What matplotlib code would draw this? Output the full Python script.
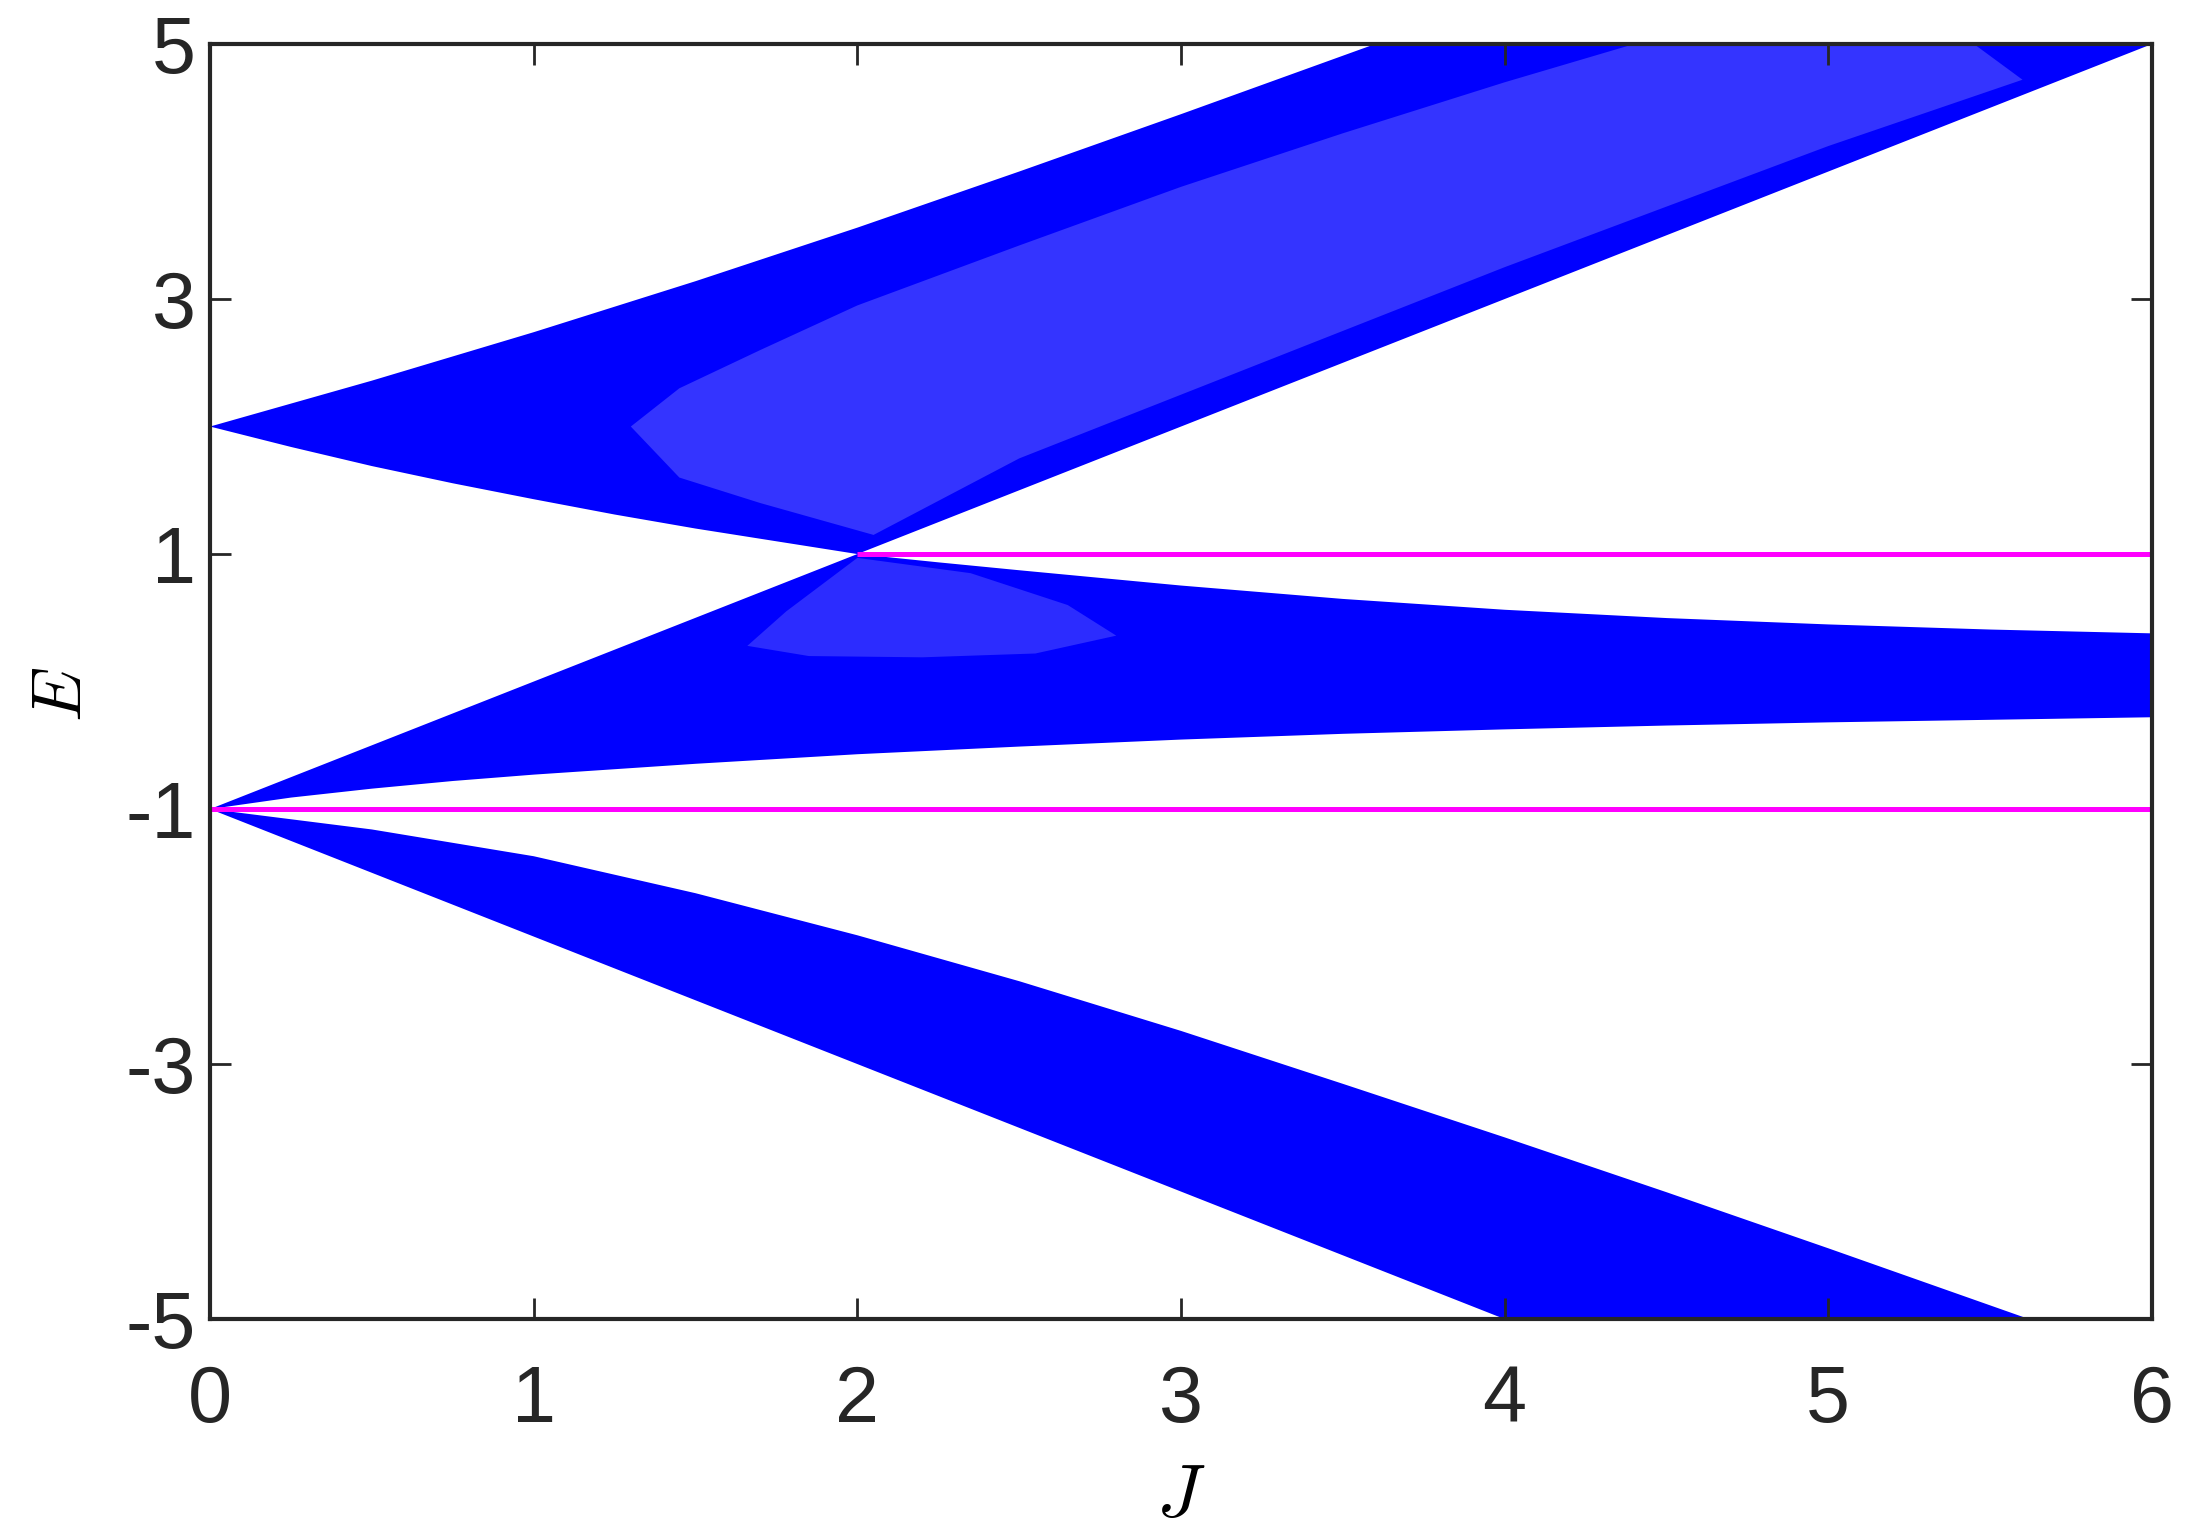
import matplotlib
matplotlib.use("Agg")
import matplotlib.pyplot as plt
import numpy as np

plt.rcParams["font.family"] = ["Liberation Sans", "DejaVu Sans"]
plt.rcParams["mathtext.fontset"] = "cm"

# Band edges E(J)
top_upper_J = [0.0, 0.5, 1.0, 1.5, 2.0, 2.5, 3.0, 3.6]
top_upper_E = [2.0, 2.36, 2.74, 3.14, 3.56, 4.0, 4.45, 5.0]
top_lower_J = [0.0, 0.25, 0.5, 0.75, 1.0, 1.25, 1.5, 1.75, 2.0, 3.0, 4.0, 5.0, 6.0]
top_lower_E = [2.0, 1.84, 1.69, 1.555, 1.43, 1.31, 1.20, 1.10, 1.0, 2.0, 3.0, 4.0, 5.0]

mid_upper_J = [0.0, 1.0, 2.0, 2.25, 2.5, 3.0, 3.5, 4.0, 4.5, 5.0, 5.5, 6.0]
mid_upper_E = [-1.0, 0.0, 1.0, 0.935, 0.873, 0.753, 0.648, 0.563, 0.498, 0.448, 0.408, 0.378]
mid_lower_J = [0.0, 0.25, 0.5, 0.75, 1.0, 1.5, 2.0, 2.5, 3.0, 3.5, 4.0, 4.5, 5.0, 6.0]
mid_lower_E = [-1.0, -0.91, -0.84, -0.78, -0.73, -0.645, -0.57, -0.51, -0.455,
               -0.41, -0.375, -0.345, -0.32, -0.28]

bot_upper_J = [0.0, 0.5, 1.0, 1.5, 2.0, 2.5, 3.0, 3.5, 4.0, 4.5, 5.0, 5.62]
bot_upper_E = [-1.0, -1.16, -1.37, -1.66, -1.99, -2.35, -2.74, -3.155, -3.575,
               -4.005, -4.445, -5.0]
bot_lower_J = [0.0, 1.0, 2.0, 3.0, 4.0]
bot_lower_E = [-1.0, -2.0, -3.0, -4.0, -5.0]

# Sparser (lighter) interior of the bands, outline
top_light_J = [1.3, 1.45, 1.7, 2.0, 2.5, 3.0, 3.5, 4.0, 4.4, 5.45,
               5.6, 5.0, 4.0, 3.0, 2.5, 2.05, 1.7, 1.45]
top_light_E = [2.0, 2.3, 2.6, 2.95, 3.42, 3.88, 4.3, 4.7, 5.0, 5.0,
               4.72, 4.2, 3.25, 2.25, 1.75, 1.15, 1.4, 1.6]
mid_light_J = [2.0, 1.78, 1.66, 1.85, 2.2, 2.55, 2.8, 2.65, 2.35]
mid_light_E = [0.97, 0.55, 0.28, 0.2, 0.19, 0.22, 0.36, 0.6, 0.85]

# Flat bands
flat_E = [1.0, -1.0]
flat_J_start = [2.0, 0.0]
flat_J_end = [6.0, 6.0]

x_ticks = [0, 1, 2, 3, 4, 5, 6]
y_ticks = [-5, -3, -1, 1, 3, 5]

fig = plt.figure(figsize=(21.95, 15.29), dpi=100)
ax = fig.add_axes([0.0957, 0.1373, 0.8847, 0.8339])

bands = [
    (top_upper_J, top_upper_E, top_lower_J, top_lower_E),
    (mid_upper_J, mid_upper_E, mid_lower_J, mid_lower_E),
    (bot_upper_J, bot_upper_E, bot_lower_J, bot_lower_E),
]
for uJ, uE, lJ, lE in bands:
    ax.fill(
        np.concatenate([uJ, lJ[::-1]]),
        np.concatenate([uE, lE[::-1]]),
        color="#0000ff",
        lw=0,
    )

ax.fill(top_light_J, top_light_E, color="#3434ff", lw=0)
ax.fill(mid_light_J, mid_light_E, color="#2c2cff", lw=0)

for e, j0, j1 in zip(flat_E, flat_J_start, flat_J_end):
    ax.plot([j0, j1], [e, e], color="#ff00ff", lw=3.6, solid_capstyle="butt")

ax.set_xlim(0, 6)
ax.set_ylim(-5, 5)
ax.set_xticks(x_ticks)
ax.set_xticklabels([str(v) for v in x_ticks])
ax.set_yticks(y_ticks)
ax.set_yticklabels([str(v) for v in y_ticks])

for side in ["left", "right", "top", "bottom"]:
    ax.spines[side].set_color("#262626")
    ax.spines[side].set_linewidth(3.0)

ax.tick_params(
    direction="in",
    length=15,
    width=2.0,
    colors="#262626",
    labelsize=57,
    top=True,
    right=True,
)
ax.tick_params(axis="x", pad=32)
ax.tick_params(axis="y", pad=10)

ax.set_xlabel(r"$J$", fontsize=54)
ax.set_ylabel(r"$E$", fontsize=50)
ax.xaxis.set_label_coords(0.5, -0.112)
ax.yaxis.set_label_coords(-0.059, 0.49)

fig.savefig("out.png", dpi=100)
